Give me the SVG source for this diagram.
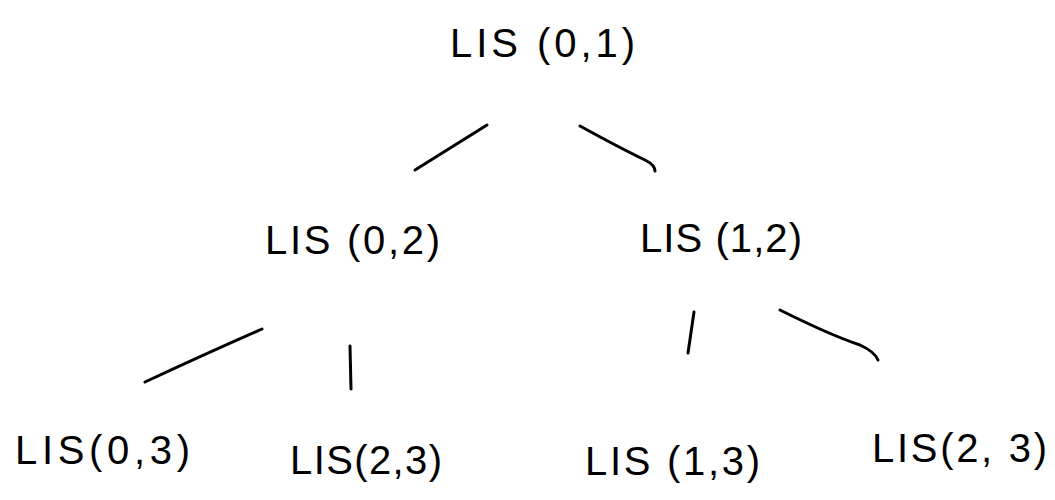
<svg xmlns="http://www.w3.org/2000/svg" width="1055" height="500" viewBox="0 0 1055 500">
<style>
.lbl{font-family:"Liberation Sans","DejaVu Sans",sans-serif;font-size:40px;fill:#000;}
.edge{fill:none;stroke:#000;stroke-width:3;stroke-linecap:round;stroke-linejoin:round;}
</style>
<rect width="1055" height="500" fill="#fff"/>
<g id="connectors">
<path class="edge" d="M415,170 L487,125"/>
<path class="edge" d="M580,126 Q620,148 645,160 Q655,165 655,171"/>
<path class="edge" d="M145,382 Q205,354 262,329"/>
<path class="edge" d="M350,346 L351,389"/>
<path class="edge" d="M694,312 L688,353"/>
<path class="edge" d="M780,310 Q830,335 860,345 Q875,352 878,360"/>
</g>
<g id="n-lis-0-1"><text class="lbl" x="450" y="57" textLength="185" lengthAdjust="spacing">LIS (0,1)</text></g>
<g id="n-lis-0-2"><text class="lbl" x="265" y="254" textLength="175" lengthAdjust="spacing">LIS (0,2)</text></g>
<g id="n-lis-1-2"><text class="lbl" x="640" y="252" textLength="162" lengthAdjust="spacing">LIS (1,2)</text></g>
<g id="n-lis-0-3"><text class="lbl" x="15" y="464" textLength="175" lengthAdjust="spacing">LIS(0,3)</text></g>
<g id="n-lis-2-3a"><text class="lbl" x="290" y="474" textLength="152" lengthAdjust="spacing">LIS(2,3)</text></g>
<g id="n-lis-1-3"><text class="lbl" x="585" y="475" textLength="175" lengthAdjust="spacing">LIS (1,3)</text></g>
<g id="n-lis-2-3b"><text class="lbl" x="872" y="462" textLength="175" lengthAdjust="spacing">LIS(2, 3)</text></g>
</svg>
